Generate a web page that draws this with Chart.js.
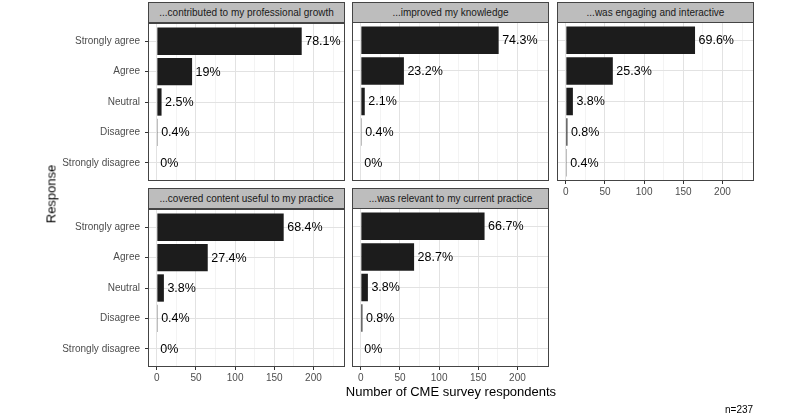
<!DOCTYPE html>
<html lang="en">
<head>
<meta charset="UTF-8">
<title>CME survey responses</title>
<script src="https://cdn.jsdelivr.net/npm/chart.js"></script>
<style>
    body {
        margin: 0;
        background: #fff;
        font-family: "Liberation Sans", Arial, sans-serif;
    }
    #wrap {
        position: relative;
        width: 800px;
        height: 414px;
        overflow: hidden;
    }
    #wrap canvas {
        position: absolute;
    }
    .strip {
        position: absolute;
        box-sizing: border-box;
        border: 1px solid #444;
        background: #bdbdbd;
        color: #1a1a1a;
        font-size: 10px;
        line-height: 19px;
        text-align: center;
        white-space: nowrap;
    }
    .title {
        position: absolute;
        color: #000;
        white-space: nowrap;
    }
</style>
</head>
<body>
<div id="wrap"></div>
<script>
    // survey data (counts out of 237 respondents)
    const responses = ['Strongly agree', 'Agree', 'Neutral', 'Disagree', 'Strongly disagree'];
    const panelTitles = [
        '...contributed to my professional growth',
        '...improved my knowledge',
        '...was engaging and interactive',
        '...covered content useful to my practice',
        '...was relevant to my current practice'
    ];
    const growthCounts = [185, 45, 6, 1, 0];
    const growthPct = ['78.1%', '19%', '2.5%', '0.4%', '0%'];
    const knowledgeCounts = [176, 55, 5, 1, 0];
    const knowledgePct = ['74.3%', '23.2%', '2.1%', '0.4%', '0%'];
    const engagingCounts = [165, 60, 9, 2, 1];
    const engagingPct = ['69.6%', '25.3%', '3.8%', '0.8%', '0.4%'];
    const usefulCounts = [162, 65, 9, 1, 0];
    const usefulPct = ['68.4%', '27.4%', '3.8%', '0.4%', '0%'];
    const relevantCounts = [158, 68, 9, 2, 0];
    const relevantPct = ['66.7%', '28.7%', '3.8%', '0.8%', '0%'];
    const xMajorTicks = [0, 50, 100, 150, 200];
    const xMinorTicks = [25, 75, 125, 175, 225];

    const panelCounts = [growthCounts, knowledgeCounts, engagingCounts, usefulCounts, relevantCounts];
    const panelPct = [growthPct, knowledgePct, engagingPct, usefulPct, relevantPct];

    // where each panel's plot area sits on the page
    const plotW = 197, plotH = 159;
    const axisW = 100, padTop = 10, padRight = 10, axisH = 22;
    const panels = [
        { left: 148, top: 22, showX: false, showY: true },
        { left: 352, top: 22, showX: false, showY: false },
        { left: 557, top: 22, showX: true, showY: false },
        { left: 148, top: 208, showX: true, showY: true },
        { left: 352, top: 208, showX: true, showY: false }
    ];

    const frame = {
        id: 'frame',
        afterDraw(chart) {
            const a = chart.chartArea;
            const ctx = chart.ctx;
            ctx.save();
            ctx.strokeStyle = '#444';
            ctx.lineWidth = 1;
            ctx.strokeRect(a.left + 0.5, a.top + 0.5, a.right - a.left - 1, a.bottom - a.top - 1);
            ctx.restore();
        }
    };

    const barLabels = {
        id: 'barLabels',
        afterDatasetsDraw(chart) {
            const ctx = chart.ctx;
            const ds = chart.data.datasets[0];
            ctx.save();
            ctx.font = '12.5px "Liberation Sans", Arial, sans-serif';
            ctx.fillStyle = '#000';
            ctx.textBaseline = 'middle';
            chart.getDatasetMeta(0).data.forEach((bar, i) => {
                ctx.fillText(ds.pctLabels[i], bar.x + 3.5, bar.y + 0.5);
            });
            ctx.restore();
        }
    };

    const isMinor = v => xMinorTicks.includes(v);
    const wrap = document.getElementById('wrap');

    panels.forEach((p, k) => {
        const strip = document.createElement('div');
        strip.className = 'strip';
        strip.style.left = p.left + 'px';
        strip.style.top = (p.top - 20) + 'px';
        strip.style.width = plotW + 'px';
        strip.style.height = '21px';
        strip.textContent = panelTitles[k];
        wrap.appendChild(strip);

        const canvas = document.createElement('canvas');
        canvas.width = axisW + plotW + padRight;
        canvas.height = padTop + plotH + axisH;
        canvas.style.left = (p.left - axisW) + 'px';
        canvas.style.top = (p.top - padTop) + 'px';
        wrap.appendChild(canvas);

        new Chart(canvas, {
            type: 'bar',
            data: {
                datasets: [{
                    data: panelCounts[k].map((c, i) => ({ x: c, y: i + 1 })),
                    pctLabels: panelPct[k],
                    backgroundColor: '#1c1c1c',
                    borderWidth: 0,
                    barPercentage: 0.9,
                    categoryPercentage: 1
                }]
            },
            options: {
                indexAxis: 'y',
                responsive: false,
                animation: false,
                layout: { padding: { top: padTop, right: padRight, bottom: 0, left: 0 } },
                plugins: {
                    legend: { display: false },
                    tooltip: { enabled: false }
                },
                scales: {
                    x: {
                        type: 'linear',
                        min: -11.3,
                        max: 240.3,
                        offset: false,
                        afterBuildTicks: s => {
                            s.ticks = xMajorTicks.concat(xMinorTicks).sort((a, b) => a - b).map(v => ({ value: v }));
                        },
                        afterFit: s => { s.height = axisH; },
                        border: { display: false },
                        grid: {
                            offset: false,
                            color: c => isMinor(c.tick.value) ? '#eeeeee' : '#e2e2e2',
                            lineWidth: c => isMinor(c.tick.value) ? 0.7 : 1,
                            drawTicks: p.showX,
                            tickLength: 3,
                            tickWidth: 1,
                            tickColor: c => isMinor(c.tick.value) ? 'rgba(0,0,0,0)' : '#333'
                        },
                        ticks: {
                            display: p.showX,
                            autoSkip: false,
                            maxRotation: 0,
                            padding: 2,
                            color: '#4d4d4d',
                            font: { size: 10, family: '"Liberation Sans", Arial, sans-serif' },
                            callback: v => isMinor(v) ? '' : String(v)
                        }
                    },
                    y: {
                        type: 'linear',
                        reverse: true,
                        min: 0.4,
                        max: 5.6,
                        offset: false,
                        afterBuildTicks: s => {
                            s.ticks = responses.map((r, i) => ({ value: i + 1 }));
                        },
                        afterFit: s => { s.width = axisW; },
                        border: { display: false },
                        grid: {
                            offset: false,
                            color: '#e2e2e2',
                            lineWidth: 1,
                            drawTicks: p.showY,
                            tickLength: 3,
                            tickWidth: 1,
                            tickColor: '#333'
                        },
                        ticks: {
                            display: p.showY,
                            autoSkip: false,
                            padding: 5,
                            color: '#4d4d4d',
                            font: { size: 10, family: '"Liberation Sans", Arial, sans-serif' },
                            callback: v => responses[v - 1]
                        }
                    }
                }
            },
            plugins: [frame, barLabels]
        });
    });

    // shared axis titles and caption
    function addText(txt, css) {
        const d = document.createElement('div');
        d.className = 'title';
        d.textContent = txt;
        Object.assign(d.style, css);
        wrap.appendChild(d);
        return d;
    }
    addText('Number of CME survey respondents', {
        left: '451px', top: '391px', fontSize: '13px', transform: 'translate(-50%, -50%)'
    });
    addText('Response', {
        left: '51px', top: '194px', fontSize: '13px', transform: 'translate(-50%, -50%) rotate(-90deg)'
    });
    addText('n=237', {
        left: '725px', top: '409px', fontSize: '10px', transform: 'translateY(-50%)'
    });
</script>
</body>
</html>
